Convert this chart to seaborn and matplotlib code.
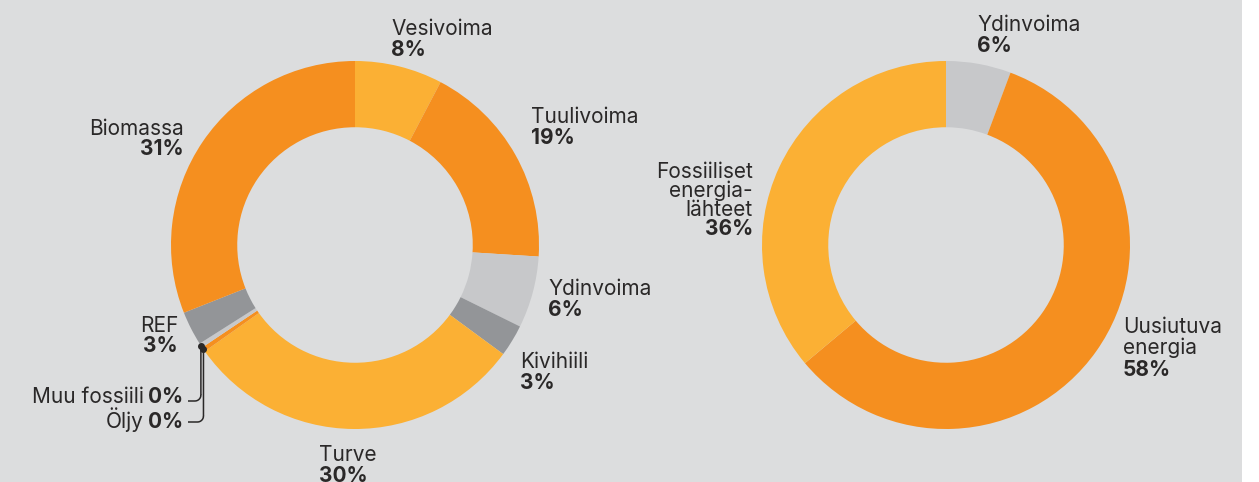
import numpy as np
import seaborn as sns
import matplotlib.pyplot as plt

# data (%), clockwise from top
left_labels = ["Vesivoima", "Tuulivoima", "Ydinvoima", "Kivihiili", "Turve",
               "Öljy", "Muu fossiili", "REF", "Biomassa"]
left_values = [7.7, 18.3, 6.3, 2.8, 30.1, 0.4, 0.4, 3.0, 31.0]
left_pct = ["8%", "19%", "6%", "3%", "30%", "0%", "0%", "3%", "31%"]

right_labels = ["Ydinvoima", "Uusiutuva\nenergia", "Fossiiliset\nenergia-\nlähteet"]
right_values = [5.7, 58.2, 36.1]
right_pct = ["6%", "58%", "36%"]

ORANGE = "#f58f1f"
LIGHT_ORANGE = "#fbb034"
LIGHT_GREY = "#c7c8ca"
DARK_GREY = "#939598"
BG = "#dcddde"
TXT = "#2a2828"

left_colors = [LIGHT_ORANGE, ORANGE, LIGHT_GREY, DARK_GREY, LIGHT_ORANGE,
               ORANGE, LIGHT_GREY, DARK_GREY, ORANGE]
right_colors = [LIGHT_GREY, ORANGE, LIGHT_ORANGE]

sns.set_theme(style="white")
plt.rcParams["font.family"] = ["Inter", "DejaVu Sans"]

W, H = 1259, 482
fig = plt.figure(figsize=(W / 100, H / 100), dpi=100)
fig.patch.set_facecolor("white")
fig.add_artist(plt.Rectangle((0, 0), 1242 / W, 1, transform=fig.transFigure,
                             facecolor=BG, edgecolor="none", zorder=0))

R = 184


def donut(cx, cy, values, colors):
    ax = fig.add_axes([(cx - R) / W, (H - cy - R) / H, 2 * R / W, 2 * R / H])
    wedges, _ = ax.pie(values, colors=colors, startangle=90, counterclock=False,
                       radius=1, wedgeprops=dict(width=0.36, edgecolor="none"))
    ax.set_xlim(-1, 1)
    ax.set_ylim(-1, 1)
    ax.set_aspect("equal")
    ax.axis("off")
    return ax, wedges


ax1, wedges1 = donut(355, 245, left_values, left_colors)
ax2, _ = donut(946, 245, right_values, right_colors)

FS = 15
LH = 21


def label(x, y, name, pct, ha="left", lh=LH):
    lines = name.split("\n")
    for i, ln in enumerate(lines):
        fig.text(x / W, 1 - (y + i * lh) / H, ln, ha=ha, va="baseline",
                 fontsize=FS, color=TXT)
    fig.text(x / W, 1 - (y + len(lines) * lh) / H, pct, ha=ha, va="baseline",
             fontsize=FS, color=TXT, fontweight="bold")


# label positions (pixels: x, first baseline)
label(391, 35, left_labels[0], left_pct[0])
label(531, 123, left_labels[1], left_pct[1])
label(548, 295, left_labels[2], left_pct[2])
label(520, 368, left_labels[3], left_pct[3])
label(319, 461, left_labels[4], left_pct[4])
label(184, 135, left_labels[8], left_pct[8], ha="right", lh=20)
label(178, 332, left_labels[7], left_pct[7], ha="right", lh=20)

label(977, 31, right_labels[0], right_pct[0])
label(1123, 333, right_labels[1], right_pct[1], lh=21.5)
label(753, 178, right_labels[2], right_pct[2], ha="right", lh=19)

# small slices with leader lines
renderer = fig.canvas.get_renderer()
inv = ax1.transData.inverted()
for idx, base, line_y in [(6, 403, 401), (5, 428, 422)]:
    b = fig.text(183 / W, 1 - base / H, left_pct[idx], ha="right", va="baseline",
                 fontsize=FS, color=TXT, fontweight="bold")
    bb = b.get_window_extent(renderer)
    fig.text((bb.x0 - 4) / W, 1 - base / H, left_labels[idx], ha="right",
             va="baseline", fontsize=FS, color=TXT)
    w = wedges1[idx]
    mid = np.deg2rad((w.theta1 + w.theta2) / 2)
    dx, dy = np.cos(mid), np.sin(mid)
    ex, ey = inv.transform((188, H - line_y))
    r = 6 / R
    arc = np.linspace(0, np.pi / 2, 10)
    xs = [dx, dx] + list(dx - r + r * np.cos(arc)) + [ex]
    ys = [dy, ey + r] + list(ey + r - r * np.sin(arc)) + [ey]
    ax1.plot(xs, ys, color=TXT, lw=1.1, solid_capstyle="butt", clip_on=False)
    ax1.plot([dx], [dy], "o", color=TXT, ms=4, clip_on=False)

fig.savefig("out.png", dpi=100, facecolor=fig.get_facecolor())
